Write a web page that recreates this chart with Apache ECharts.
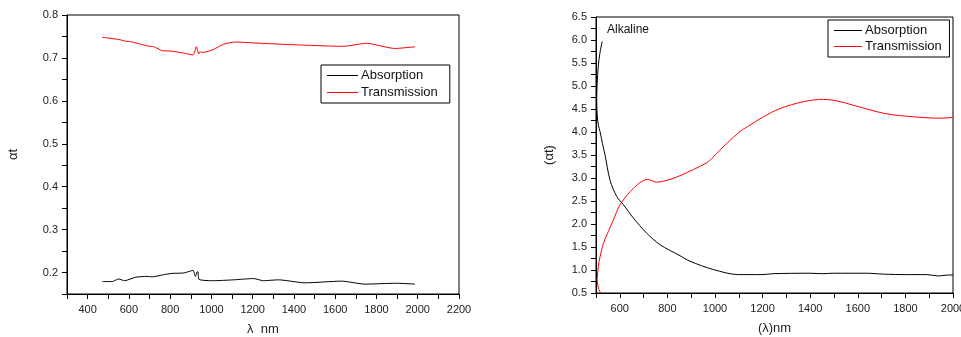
<!DOCTYPE html>
<html>
<head>
<meta charset="utf-8">
<script src="https://cdn.jsdelivr.net/npm/echarts@6/dist/echarts.min.js"></script>
<style>
  html, body { margin: 0; padding: 0; background: #fff; }
</style>
</head>
<body>
<div id="main" style="width: 961px; height: 337px;"></div>
<script>
// left panel
var leftAbsLambda = [471, 519, 551, 579, 632, 688, 713, 769, 809, 866, 911, 922, 930, 935, 940, 1011, 1107, 1204, 1252, 1325, 1454, 1631, 1744, 1897, 1986];
var leftAbsValue  = [0.179, 0.179, 0.185, 0.181, 0.189, 0.191, 0.190, 0.195, 0.198, 0.199, 0.205, 0.191, 0.201, 0.202, 0.184, 0.181, 0.183, 0.186, 0.181, 0.183, 0.176, 0.180, 0.173, 0.175, 0.173];
var leftTraLambda = [471, 551, 584, 608, 656, 688, 721, 761, 801, 858, 911, 927, 938, 943, 962, 1011, 1059, 1115, 1204, 1333, 1494, 1639, 1752, 1889, 1986];
var leftTraValue  = [0.748, 0.743, 0.739, 0.738, 0.732, 0.728, 0.726, 0.717, 0.716, 0.712, 0.707, 0.726, 0.709, 0.714, 0.713, 0.720, 0.732, 0.737, 0.735, 0.732, 0.729, 0.727, 0.734, 0.722, 0.726];

// right panel (Alkaline)
var rightAbsLambda = [526, 516, 510, 505, 503, 505, 510, 517, 527, 538, 559, 587, 615, 657, 713, 769, 853, 895, 993, 1098, 1197, 1245, 1400, 1449, 1498, 1638, 1708, 1799, 1890, 1939, 1975, 2000];
var rightAbsValue  = [5.97, 5.70, 5.45, 5.05, 4.73, 4.37, 4.15, 4.01, 3.75, 3.50, 2.95, 2.60, 2.42, 2.13, 1.80, 1.55, 1.31, 1.19, 1.01, 0.90, 0.90, 0.92, 0.93, 0.92, 0.93, 0.93, 0.91, 0.90, 0.90, 0.87, 0.89, 0.89];
var rightTraLambda = [520, 510, 505, 510, 517, 531, 552, 573, 601, 643, 685, 716, 755, 811, 853, 965, 993, 1049, 1105, 1147, 1203, 1273, 1372, 1456, 1526, 1596, 1715, 1834, 1947, 2000];
var rightTraValue  = [0.49, 0.61, 0.79, 1.08, 1.29, 1.58, 1.84, 2.09, 2.42, 2.70, 2.90, 2.97, 2.91, 2.97, 3.05, 3.33, 3.46, 3.75, 4.01, 4.15, 4.33, 4.51, 4.66, 4.71, 4.66, 4.56, 4.40, 4.33, 4.30, 4.32];

function zip(xs, ys) {
  var out = [];
  for (var i = 0; i < xs.length; i++) out.push([xs[i], ys[i]]);
  return out;
}

var chart = echarts.init(document.getElementById('main'));
var font = 'Liberation Sans, Arial, sans-serif';
var labelStyle = { color: '#222', fontSize: 11, fontFamily: font, margin: 10 };

function lineSeries(name, data, color, axisIdx, smooth) {
  return {
    name: name,
    type: 'line',
    xAxisIndex: axisIdx,
    yAxisIndex: axisIdx,
    data: data,
    showSymbol: false,
    smooth: smooth,
    lineStyle: { color: color, width: 1 },
    itemStyle: { color: color },
    animation: false
  };
}

function xAxisDef(grid, min, max, name) {
  return {
    type: 'value', gridIndex: grid, min: min, max: max, interval: 100,
    name: name, nameLocation: 'middle', nameGap: 29,
    nameTextStyle: { color: '#222', fontSize: 13, fontFamily: font },
    axisLine: { lineStyle: { color: '#000' } },
    axisTick: { lineStyle: { color: '#000' }, length: 5 },
    axisLabel: Object.assign({}, labelStyle, {
      formatter: function (v) { return v % 200 === 0 ? String(v) : ''; }
    }),
    splitLine: { show: false }
  };
}

function yAxisDef(grid, min, max, step, labelStep, name, gap) {
  return {
    type: 'value', gridIndex: grid, min: min, max: max, interval: step,
    name: name, nameLocation: 'middle', nameGap: gap,
    nameTextStyle: { color: '#222', fontSize: 13, fontFamily: font },
    axisLine: { lineStyle: { color: '#000' } },
    axisTick: { lineStyle: { color: '#000' }, length: 5 },
    axisLabel: Object.assign({}, labelStyle, {
      margin: 9,
      formatter: function (v) {
        var k = Math.round(v * 100);
        return k % Math.round(labelStep * 100) === 0 ? (k / 100).toFixed(1) : '';
      }
    }),
    splitLine: { show: false }
  };
}

var option = {
  backgroundColor: '#fff',
  animation: false,
  grid: [
    { left: 67, right: 502, top: 15, bottom: 43, show: true, borderColor: '#000', borderWidth: 1, outerBoundsMode: 'none' },
    { left: 596, right: 8, top: 17, bottom: 44, show: true, borderColor: '#000', borderWidth: 1, outerBoundsMode: 'none' }
  ],
  xAxis: [
    xAxisDef(0, 300, 2200, 'λ  nm'),
    xAxisDef(1, 500, 2000, '(λ)nm')
  ],
  yAxis: [
    yAxisDef(0, 0.15, 0.8, 0.05, 0.1, 'αt', 47),
    yAxisDef(1, 0.5, 6.5, 0.25, 0.5, '(αt)', 40)
  ],
  legend: [
    {
      data: ['Absorption', 'Transmission'],
      orient: 'vertical', left: 321, top: 65,
      icon: 'rect', itemWidth: 31, itemHeight: 1, itemGap: 4,
      padding: [4, 12, 4, 6],
      borderColor: '#000', borderWidth: 1,
      textStyle: { color: '#111', fontSize: 13, fontFamily: font, padding: [0, 0, 0, -2] }
    },
    {
      data: ['Absorption ', 'Transmission '],
      orient: 'vertical', left: 828, top: 20,
      icon: 'rect', itemWidth: 28, itemHeight: 1, itemGap: 3,
      padding: [4, 4, 4, 6],
      borderColor: '#000', borderWidth: 1,
      textStyle: { color: '#111', fontSize: 13, fontFamily: font, padding: [0, 0, 0, -2] }
    }
  ],
  graphic: [
    { type: 'text', left: 607, top: 24, style: { text: 'Alkaline', fill: '#111', font: '12px ' + font } }
  ],
  series: [
    lineSeries('Absorption', zip(leftAbsLambda, leftAbsValue), '#000', 0, 0.2),
    lineSeries('Transmission', zip(leftTraLambda, leftTraValue), '#ff0000', 0, 0.2),
    lineSeries('Absorption ', zip(rightAbsLambda, rightAbsValue), '#000', 1, 0.3),
    lineSeries('Transmission ', zip(rightTraLambda, rightTraValue), '#ff0000', 1, 0.3)
  ]
};

chart.setOption(option);
</script>
</body>
</html>
